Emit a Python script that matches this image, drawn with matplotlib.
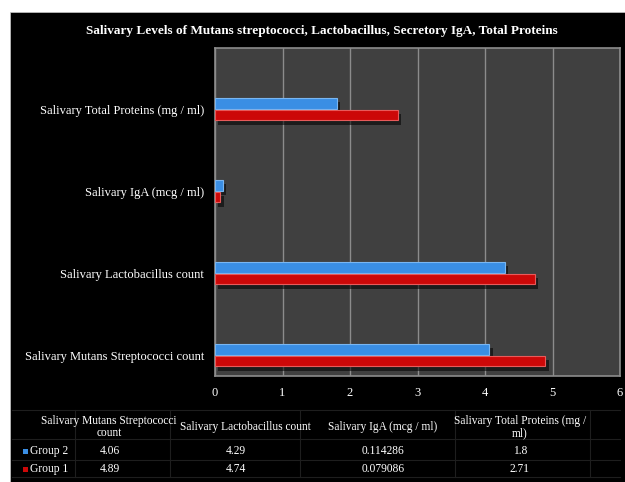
import numpy as np
import matplotlib

matplotlib.use('Agg')

import matplotlib.pyplot as plt
import matplotlib.patheffects as pe
from matplotlib.patches import Rectangle
from matplotlib.lines import Line2D

plt.rcParams['font.family'] = ['Liberation Serif', 'DejaVu Serif']

'''Data'''

categories = ['Salivary Mutans Streptococci count',
              'Salivary Lactobacillus count',
              'Salivary IgA (mcg / ml)',
              'Salivary Total Proteins (mg / ml)']
table_heads = ['Salivary Mutans Streptococci\ncount',
               'Salivary Lactobacillus count',
               'Salivary IgA (mcg / ml)',
               'Salivary Total Proteins (mg /\nml)']
group2 = [4.06, 4.29, 0.114286, 1.8]
group1 = [4.89, 4.74, 0.079086, 2.71]
series_names = ['Group 2', 'Group 1']
xticks = [0, 1, 2, 3, 4, 5, 6]

blue = '#3a8ee4'
red  = '#cc0808'

W, H = 625, 482
fx = lambda x: x / W        # pixel -> figure fraction
fy = lambda y: 1 - y / H

fig = plt.figure(figsize=(W / 100, H / 100), dpi=100)
fig.patch.set_facecolor('white')
# black chart area with a thin white margin top/left
fig.patches.append(Rectangle((fx(10), 0), 1 - fx(10), fy(12), transform=fig.transFigure,
                             facecolor='black', edgecolor='#c8c8c8', lw=0.5, zorder=-5))

ax = fig.add_axes([fx(215), fy(376), fx(620) - fx(215), fy(48) - fy(376)])
ax.set_facecolor('#404040')

y = np.arange(len(categories))
h = 0.134
off = 0.073
shadow = [pe.SimplePatchShadow(offset=(2.5, -3), shadow_rgbFace='black', alpha=0.55), pe.Normal()]
b2 = ax.barh(y + off, group2, height=h, color=blue, edgecolor='#79b6f2', lw=0.8, zorder=3)
b1 = ax.barh(y - off, group1, height=h, color=red, edgecolor='#e85a5a', lw=0.8, zorder=3)
for b in list(b2) + list(b1):
    b.set_path_effects(shadow)

ax.set_xlim(0, 6)
# bar groups sit low in each band
shift = 0.244
ax.set_ylim(-0.5 + shift, len(categories) - 0.5 + shift)
ax.set_xticks(xticks)
ax.set_yticks(y)
ax.set_yticklabels(categories)
ax.xaxis.grid(True, color='#8c8c8c', lw=1)
ax.set_axisbelow(True)
ax.tick_params(axis='both', length=0, colors='white', labelsize=9)
ax.tick_params(axis='x', pad=8)
ax.tick_params(axis='y', pad=8)
for s in ax.spines.values():
    s.set_color('#8c8c8c')
    s.set_linewidth(1.2)

fig.text(fx(322), fy(31), 'Salivary Levels of Mutans streptococci, Lactobacillus, Secretory IgA, Total Proteins',
         color='white', fontsize=9.5, fontweight='bold', ha='center', va='center')

'''Data table below the chart'''

grid_c = '#1e1e1e'
for yy in [410, 439, 460, 477]:
    fig.lines.append(Line2D([fx(12), fx(620)], [fy(yy), fy(yy)], transform=fig.transFigure,
                            color=grid_c, lw=0.8, zorder=-1))
for xx in [75, 170, 300, 455, 590]:
    fig.lines.append(Line2D([fx(xx), fx(xx)], [fy(410), fy(477)], transform=fig.transFigure,
                            color=grid_c, lw=0.8, zorder=-1))

head_x = [109, 245, 383, 520]
val_x = [110, 236, 383, 520]
for hx, head in zip(head_x, table_heads):
    fig.text(fx(hx), fy(427), head, color='white', fontsize=8.3, ha='center', va='center',
             linespacing=1.05)

rows = [group2, group1]
row_y = [451, 469]
for name, vals, ry, c in zip(series_names, rows, row_y, [blue, red]):
    fig.patches.append(Rectangle((fx(23), fy(ry) - 2.5 / H), 5 / W, 5 / H, transform=fig.transFigure,
                                 facecolor=c, edgecolor='none', zorder=2))
    fig.text(fx(30), fy(ry), name, color='white', fontsize=8.3, ha='left', va='center')
    for vx, v in zip(val_x, vals):
        fig.text(fx(vx), fy(ry), '%g' % v, color='white', fontsize=8.3, ha='center', va='center')

plt.savefig('out.png', dpi=100, facecolor=fig.get_facecolor())
